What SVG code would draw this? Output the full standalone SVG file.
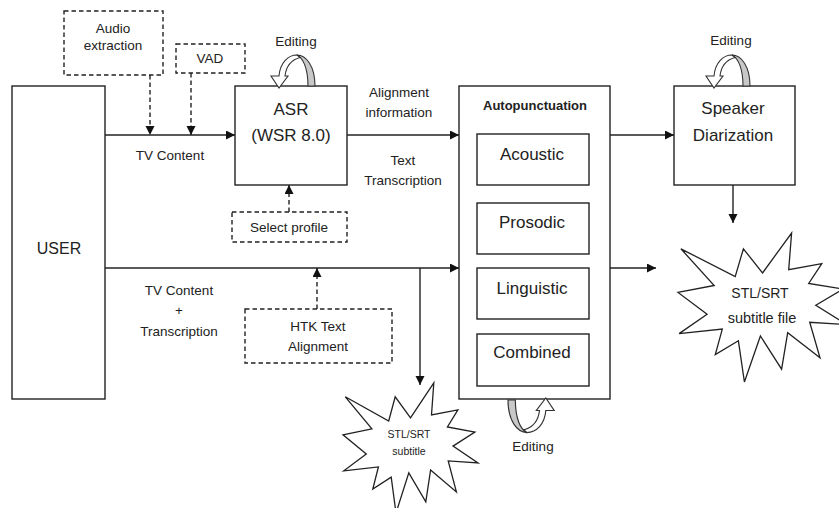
<svg xmlns="http://www.w3.org/2000/svg" width="839" height="508" viewBox="0 0 839 508">
<style>
  .box{fill:#fff;stroke:#222;stroke-width:1.4}
  .dbox{fill:#fff;stroke:#222;stroke-width:1.4;stroke-dasharray:4.5 3}
  .ln{fill:none;stroke:#222;stroke-width:1.4}
  .dl{fill:none;stroke:#222;stroke-width:1.4;stroke-dasharray:4.5 3}
  text{font-family:"Liberation Sans",Arial,sans-serif;fill:#222;text-anchor:middle}
  .lbl{font-size:13.5px}
  .big{font-size:17px}
  .sm{font-size:10.5px}
  .star{fill:#fff;stroke:#222;stroke-width:1.3;stroke-linejoin:miter}
</style>
<defs>
  <marker id="ah" markerUnits="userSpaceOnUse" markerWidth="10" markerHeight="10" refX="9" refY="4.5" orient="auto">
    <path d="M0,0 L9,4.5 L0,9 Z" fill="#111"/>
  </marker>
  <g id="loop">
    <path d="M0,0 C0,-20 -9,-31 -18,-31 C-12,-28 -7,-18 -7,0 Z" fill="#c8c8c8" stroke="#333" stroke-width="1.1"/>
    <path d="M-18,-31 C-27,-31 -35,-23 -36,-10 L-44,-10 L-36,2 L-27,-10 L-30,-10 C-29,-19 -24,-26 -15,-28.5 Z" fill="#fff" stroke="#333" stroke-width="1.1"/>
  </g>
</defs>

<g id="user">
  <rect class="box" x="12" y="86" width="93" height="313"/>
  <text class="big" x="59" y="254" style="font-size:16px">USER</text>
</g>

<g id="audio-extraction">
  <rect class="dbox" x="64" y="11" width="99" height="64"/>
  <text class="lbl" x="113" y="33">Audio</text>
  <text class="lbl" x="113" y="50">extraction</text>
</g>

<g id="vad">
  <rect class="dbox" x="176" y="44" width="69" height="29"/>
  <text class="lbl" x="210" y="63">VAD</text>
</g>

<g id="asr">
  <rect class="box" x="235" y="86" width="112" height="99"/>
  <text class="big" x="291" y="115">ASR</text>
  <text class="big" x="291" y="141">(WSR 8.0)</text>
</g>

<g id="asr-editing">
  <use href="#loop" transform="translate(315,86)"/>
  <text class="lbl" x="296" y="46">Editing</text>
</g>

<g id="select-profile">
  <rect class="dbox" x="232" y="212" width="115" height="30"/>
  <text class="lbl" x="289" y="232">Select profile</text>
</g>

<g id="htk">
  <rect class="dbox" x="245" y="309" width="147" height="54"/>
  <text class="lbl" x="318" y="331">HTK Text</text>
  <text class="lbl" x="318" y="351">Alignment</text>
</g>

<g id="autopunctuation">
  <rect class="box" x="459" y="86" width="151" height="313"/>
  <text x="535" y="110" style="font-size:13px;font-weight:bold">Autopunctuation</text>
  <rect class="box" x="477" y="134" width="112" height="51"/>
  <text class="big" x="532" y="160">Acoustic</text>
  <rect class="box" x="477" y="203" width="112" height="51"/>
  <text class="big" x="532" y="228">Prosodic</text>
  <rect class="box" x="477" y="268" width="112" height="51"/>
  <text class="big" x="532" y="294">Linguistic</text>
  <rect class="box" x="477" y="334" width="112" height="52"/>
  <text class="big" x="532" y="358">Combined</text>
</g>

<g id="autopunctuation-editing">
  <use href="#loop" transform="translate(508,400) rotate(180) scale(1.05)"/>
  <text class="lbl" x="533" y="451">Editing</text>
</g>

<g id="speaker-diarization">
  <rect class="box" x="674" y="86" width="121" height="99"/>
  <text class="big" x="733" y="114">Speaker</text>
  <text class="big" x="733" y="141">Diarization</text>
</g>

<g id="speaker-editing">
  <use href="#loop" transform="translate(750,86)"/>
  <text class="lbl" x="731" y="45">Editing</text>
</g>

<g id="subtitle-small">
  <polygon class="star" points="410.5,417.9 433.8,383 431.5,415 457.9,409.8 447.4,427 474.9,432 453,446.1 478,463 448.2,460.9 456.4,491.9 430.6,470 425.8,501.8 408.8,472.9 396,513 391.2,477.1 372.8,489 378.4,466.9 343.8,470.8 366.3,453.9 343,434.8 371.9,428.8 345.3,396.8 388.7,421 395.2,396.8"/>
  <text class="sm" x="409" y="438">STL/SRT</text>
  <text class="sm" x="409" y="455">subtitle</text>
</g>

<g id="subtitle-file">
  <polygon class="star" points="762.5,273 791.6,233 788.7,269.7 821.8,263.7 808.7,283.5 843.1,289.1 815.8,305.3 847,324.7 809.7,322.3 820,357.8 787.7,332.7 781.6,369.2 760.4,336 744.4,382 738.4,340.8 715.3,354.5 722.3,329.1 679.1,333.6 707.1,314.2 678,292.4 714.2,285.5 680.9,248.8 735.2,276.6 743.4,248.8"/>
  <text x="760" y="298" style="font-size:14px">STL/SRT</text>
  <text x="762" y="323" style="font-size:14.5px">subtitle file</text>
</g>

<g id="connectors">
  <line class="ln" x1="105" y1="135" x2="235" y2="135" marker-end="url(#ah)"/>
  <line class="dl" x1="150" y1="75" x2="150" y2="135" marker-end="url(#ah)"/>
  <line class="dl" x1="191" y1="73" x2="191" y2="135" marker-end="url(#ah)"/>
  <line class="ln" x1="347" y1="135" x2="459" y2="135" marker-end="url(#ah)"/>
  <line class="dl" x1="289" y1="212" x2="289" y2="185" marker-end="url(#ah)"/>
  <line class="ln" x1="105" y1="268" x2="459" y2="268" marker-end="url(#ah)"/>
  <line class="ln" x1="420" y1="268" x2="420" y2="385" marker-end="url(#ah)"/>
  <line class="dl" x1="317" y1="309" x2="317" y2="268" marker-end="url(#ah)"/>
  <line class="ln" x1="610" y1="135" x2="674" y2="135" marker-end="url(#ah)"/>
  <line class="ln" x1="733" y1="185" x2="733" y2="223" marker-end="url(#ah)"/>
  <line class="ln" x1="610" y1="268" x2="656" y2="268" marker-end="url(#ah)"/>
  <text class="lbl" x="170" y="160">TV Content</text>
  <text class="lbl" x="399" y="97">Alignment</text>
  <text class="lbl" x="399" y="117">information</text>
  <text class="lbl" x="403" y="165">Text</text>
  <text class="lbl" x="403" y="185">Transcription</text>
  <text class="lbl" x="179" y="295">TV Content</text>
  <text class="lbl" x="179" y="315">+</text>
  <text class="lbl" x="179" y="336">Transcription</text>
</g>
</svg>
